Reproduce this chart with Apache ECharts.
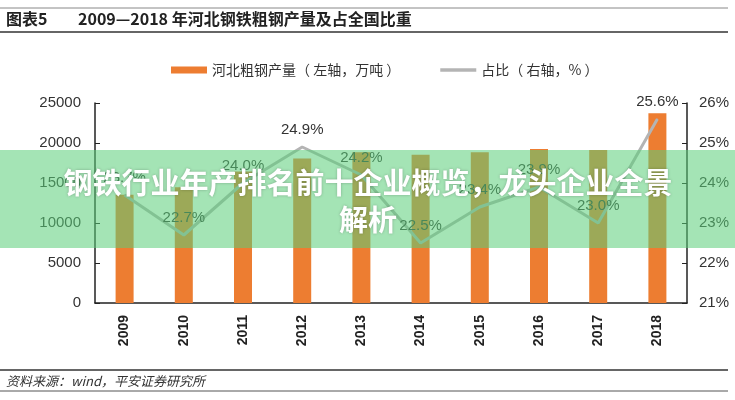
<!DOCTYPE html>
<html>
<head>
<meta charset="utf-8">
<script src="https://cdn.jsdelivr.net/npm/echarts@6/dist/echarts.min.js"></script>
<style>
  html, body { margin: 0; padding: 0; background: #fff; }
  #chart { width: 735px; height: 400px; }
</style>
</head>
<body>
<div id="chart"></div>
<script>
// 年份
var years = ['2009', '2010', '2011', '2012', '2013', '2014', '2015', '2016', '2017', '2018'];
// 河北粗钢产量（万吨）
var output = [13537, 14459, 16450, 18048, 18850, 18530, 18832, 19260, 19121, 23715];
// 占全国比重（%）
var share = [23.7, 22.7, 24.0, 24.9, 24.2, 22.5, 23.4, 23.9, 23.0, 25.6];

var FONT = '"Liberation Sans", "Noto Sans CJK SC", sans-serif';
var CJK = '"Noto Sans CJK SC", "Liberation Sans", sans-serif';

var chart = echarts.init(document.getElementById('chart'));

var option = {
  animation: false,
  backgroundColor: '#fff',
  textStyle: { fontFamily: FONT },
  grid: { left: 95, right: 48, top: 103, bottom: 97 },
  legend: {
    top: 58,
    left: 166,
    itemGap: 40,
    itemWidth: 36,
    itemHeight: 7,
    textStyle: { fontFamily: CJK, fontSize: 14, color: '#333' },
    data: [
      { name: '河北粗钢产量（ 左轴，万吨 ）', icon: 'rect' },
      { name: '占比（ 右轴，% ）', icon: 'path://M0,0 L40,0 L40,4 L0,4 Z', itemStyle: { color: '#b4b4b4' } }
    ]
  },
  xAxis: {
    type: 'category',
    data: years,
    axisLine: { lineStyle: { color: '#222', width: 1.5 } },
    axisTick: { inside: true, length: 5, lineStyle: { color: '#222' } },
    axisLabel: { rotate: 90, fontSize: 14, color: '#222', margin: 12, fontWeight: 'bold' }
  },
  yAxis: [
    {
      type: 'value',
      min: 0, max: 25000, interval: 5000,
      splitLine: { show: false },
      axisLine: { show: true, lineStyle: { color: '#222', width: 1.5 } },
      axisTick: { show: true, inside: true, length: 5, lineStyle: { color: '#222' } },
      axisLabel: { fontSize: 15, color: '#333', margin: 14, formatter: function (v) { return String(v); } }
    },
    {
      type: 'value',
      min: 21, max: 26, interval: 1,
      splitLine: { show: false },
      axisLine: { show: true, lineStyle: { color: '#222', width: 1.5 } },
      axisTick: { show: true, inside: true, length: 5, lineStyle: { color: '#222' } },
      axisLabel: { fontSize: 15, color: '#333', margin: 12, formatter: '{value}%' }
    }
  ],
  series: [
    {
      name: '河北粗钢产量（ 左轴，万吨 ）',
      type: 'bar',
      data: output,
      barWidth: 18,
      itemStyle: { color: '#ed7d31' }
    },
    {
      name: '占比（ 右轴，% ）',
      type: 'line',
      yAxisIndex: 1,
      data: share,
      symbol: 'circle',
      symbolSize: 1,
      showSymbol: true,
      lineStyle: { color: '#b4b4b4', width: 3 },
      itemStyle: { color: '#b4b4b4' },
      label: {
        show: true,
        position: 'top',
        distance: 9,
        fontSize: 15,
        color: '#333',
        formatter: function (p) { return p.value.toFixed(1) + '%'; }
      }
    }
  ],
  graphic: [
    { type: 'line', shape: { x1: 0, y1: 8, x2: 728, y2: 8 }, style: { stroke: '#888', lineWidth: 1 } },
    { type: 'text', left: 6, top: 11, style: { text: '图表5', font: 'bold 16px ' + CJK, fill: '#222' } },
    { type: 'text', left: 78, top: 11, style: { text: '2009—2018 年河北钢铁粗钢产量及占全国比重', font: 'bold 16px ' + CJK, fill: '#222' } },
    { type: 'line', shape: { x1: 0, y1: 32, x2: 728, y2: 32 }, style: { stroke: '#333', lineWidth: 1.5 } },
    { type: 'line', shape: { x1: 0, y1: 370, x2: 728, y2: 370 }, style: { stroke: '#333', lineWidth: 1.5 } },
    { type: 'text', left: 6, top: 375, style: { text: '资料来源：wind，平安证券研究所', font: 'italic 13px ' + CJK, fill: '#333' } },
    { type: 'line', shape: { x1: 0, y1: 391, x2: 728, y2: 391 }, style: { stroke: '#555', lineWidth: 1 } },
    {
      type: 'rect', z: 100,
      shape: { x: 0, y: 150, width: 735, height: 98 },
      style: { fill: 'rgba(90,205,120,0.55)' }
    },
    {
      type: 'text', z: 101, x: 368, y: 164,
      style: {
        text: '钢铁行业年产排名前十企业概览，龙头企业全景\n解析',
        font: 'bold 29px ' + CJK,
        fill: '#fff',
        align: 'center',
        verticalAlign: 'top',
        lineHeight: 37,
        textShadowColor: 'rgba(0,0,0,0.25)',
        textShadowBlur: 3
      }
    }
  ]
};

chart.setOption(option);
</script>
</body>
</html>
